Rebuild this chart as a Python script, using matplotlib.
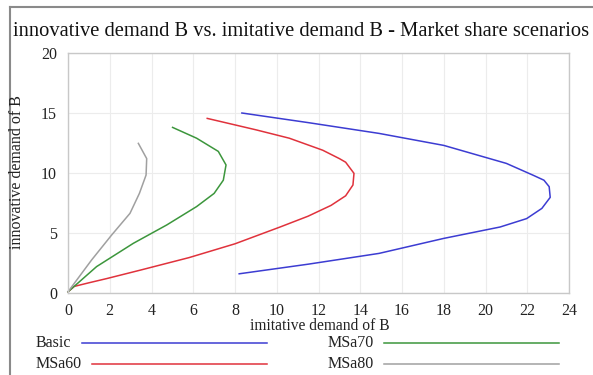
import matplotlib
matplotlib.use("Agg")
import matplotlib.pyplot as plt
from matplotlib.lines import Line2D

plt.rcParams['font.family'] = ['Liberation Serif', 'DejaVu Serif']

# Data
basic_x = [8.2, 11.5, 14.9, 18.0, 20.7, 21.97, 22.7, 23.1, 23.05, 22.8, 22.3, 21.0, 18.0, 14.9, 11.5, 8.33]
basic_y = [1.6, 2.4, 3.3, 4.55, 5.5, 6.2, 7.05, 7.97, 8.86, 9.4, 9.8, 10.8, 12.3, 13.3, 14.2, 15.0]

msa60_x = [0.0, 0.3, 1.0, 1.85, 3.45, 5.8, 8.0, 10.16, 11.5, 12.6, 13.3, 13.65, 13.7, 13.3, 13.0, 12.2, 10.6, 9.0, 6.67]
msa60_y = [0.1, 0.55, 0.85, 1.2, 1.9, 2.95, 4.1, 5.5, 6.4, 7.3, 8.1, 9.0, 9.97, 10.9, 11.2, 11.9, 12.9, 13.6, 14.55]

msa70_x = [0.0, 1.37, 3.13, 4.73, 6.16, 7.0, 7.44, 7.57, 7.2, 6.16, 5.01]
msa70_y = [0.1, 2.2, 4.14, 5.67, 7.2, 8.3, 9.4, 10.67, 11.8, 12.9, 13.8]

msa80_x = [0.0, 1.13, 2.09, 2.97, 3.42, 3.74, 3.77, 3.37]
msa80_y = [0.1, 2.75, 4.83, 6.64, 8.3, 9.83, 11.2, 12.47]

series_names = ["Basic", "MSa60", "MSa70", "MSa80"]
series_colors = ["#3c3cd2", "#e0323c", "#3c963c", "#a0a0a0"]
x_ticks = [0, 2, 4, 6, 8, 10, 12, 14, 16, 18, 20, 22, 24]
y_ticks = [0, 5, 10, 15, 20]

W, H = 593, 375
fig = plt.figure(figsize=(W / 100, H / 100), dpi=100)
fig.patch.set_facecolor("white")

def fx(px):
    return px / W

def fy(py):
    return 1 - py / H

# outer frame (left and top edges)
fig.add_artist(Line2D([fx(10), fx(10)], [0, fy(7)], color="#8a8a8a", lw=1.5, transform=fig.transFigure))
fig.add_artist(Line2D([fx(10), 1.0], [fy(7), fy(7)], color="#8a8a8a", lw=1.5, transform=fig.transFigure))

ax = fig.add_axes([fx(68), fy(293), fx(569) - fx(68), fy(53) - fy(293)])
data = [(basic_x, basic_y), (msa60_x, msa60_y), (msa70_x, msa70_y), (msa80_x, msa80_y)]
for (xs, ys), c in zip(data, series_colors):
    ax.plot(xs, ys, color=c, lw=1.1, clip_on=False, solid_joinstyle="round")

ax.set_xlim(0, 24)
ax.set_ylim(0, 20)
ax.set_xticks(x_ticks)
ax.set_yticks(y_ticks)
ax.set_xticklabels([str(t) for t in x_ticks], fontsize=11.5)
ax.set_yticklabels([str(t) for t in y_ticks], fontsize=11.5)
ax.tick_params(length=0, pad=7, colors="#222222")
ax.tick_params(axis="y", pad=8)
ax.grid(True, color="#ececec", lw=0.8)
ax.set_axisbelow(True)
for s in ax.spines.values():
    s.set_color("#c8c8c8")
    s.set_linewidth(1.0)

fig.text(fx(301), fy(31), "innovative demand B vs. imitative demand B - Market share scenarios",
         ha="center", va="center", fontsize=14.8, color="#111111")
fig.text(fx(17), fy(172), "innovative demand of B", rotation=90, ha="center", va="center",
         fontsize=11.5, color="#222222")
fig.text(fx(320), fy(326), "imitative demand of B", ha="center", va="center",
         fontsize=11.2, color="#222222")

# legend
leg = [
    (series_names[0], series_colors[0], 36, 82, 267, 343),
    (series_names[1], series_colors[1], 36, 92, 267, 364),
    (series_names[2], series_colors[2], 328, 384, 559, 343),
    (series_names[3], series_colors[3], 328, 384, 559, 364),
]
for name, c, tx, x0, x1, yy in leg:
    fig.text(fx(tx), fy(yy), name, ha="left", va="center", fontsize=11.5, color="#222222")
    fig.add_artist(Line2D([fx(x0), fx(x1)], [fy(yy), fy(yy)], color=c, lw=1.1,
                          transform=fig.transFigure))

fig.savefig("out.png", dpi=100, facecolor="white")
